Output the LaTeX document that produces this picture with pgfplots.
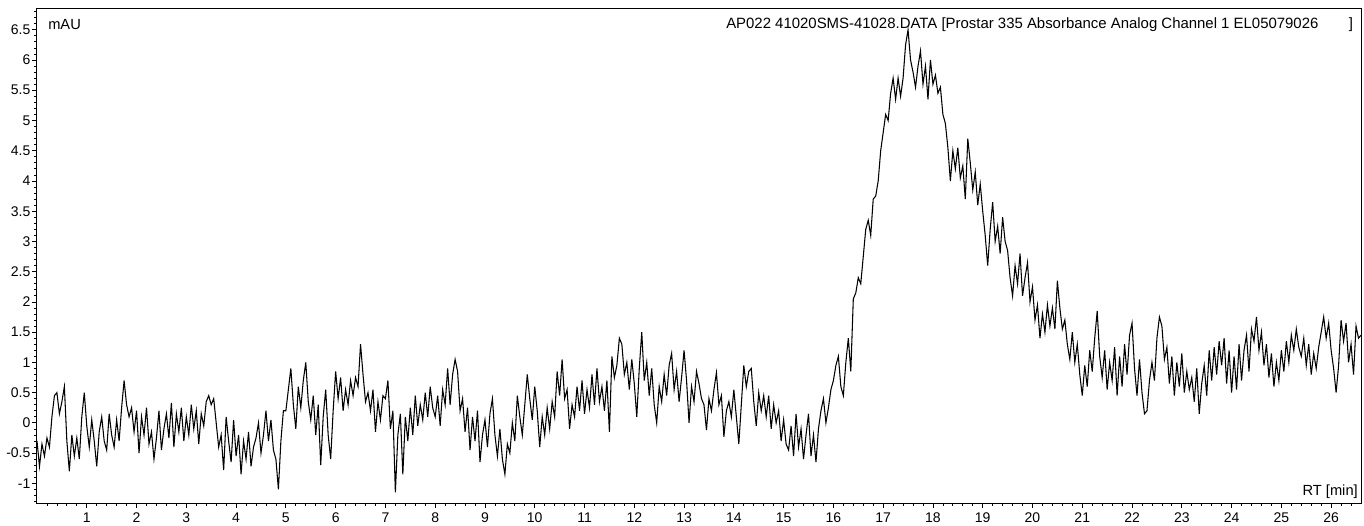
\documentclass[border=0pt]{standalone}
\usepackage{fontspec}
\setmainfont{Liberation Sans}
\usepackage{pgfplots}
\usepackage{pgfplotstable}
\pgfplotsset{compat=1.18}

\pgfplotstableread[row sep=\\]{
y\\
-0.30\\ -0.72\\ -0.35\\ -0.55\\ -0.25\\ -0.40\\ 0.10\\ 0.45\\ 0.50\\ 0.15\\ 0.35\\ 0.60\\ -0.30\\ -0.80\\ -0.20\\ -0.55\\ -0.25\\ -0.60\\ 0.10\\ 0.50\\
-0.05\\ -0.40\\ 0.05\\ -0.30\\ -0.72\\ -0.15\\ 0.10\\ -0.30\\ -0.45\\ 0.15\\ -0.20\\ -0.40\\ 0.05\\ -0.30\\ 0.25\\ 0.70\\ 0.30\\ 0.10\\ 0.25\\ -0.15\\
0.20\\ -0.50\\ 0.10\\ -0.20\\ 0.25\\ -0.35\\ -0.15\\ -0.60\\ -0.25\\ 0.20\\ -0.45\\ -0.10\\ 0.15\\ -0.25\\ 0.33\\ -0.40\\ 0.15\\ -0.15\\ 0.25\\ -0.30\\
0.10\\ -0.20\\ 0.30\\ -0.10\\ 0.20\\ -0.35\\ 0.15\\ -0.05\\ 0.35\\ 0.45\\ 0.30\\ 0.40\\ 0.00\\ -0.40\\ -0.20\\ -0.78\\ 0.10\\ -0.30\\ -0.65\\ 0.05\\
-0.55\\ -0.20\\ -0.85\\ -0.30\\ -0.60\\ -0.15\\ -0.72\\ -0.40\\ -0.25\\ 0.00\\ -0.50\\ -0.20\\ 0.20\\ -0.30\\ 0.05\\ -0.45\\ -0.60\\ -1.10\\ -0.30\\ 0.20\\
0.20\\ 0.55\\ 0.90\\ 0.30\\ -0.10\\ 0.60\\ 0.25\\ 0.70\\ 1.00\\ 0.35\\ 0.05\\ 0.45\\ -0.20\\ 0.30\\ -0.70\\ 0.10\\ 0.55\\ -0.20\\ -0.60\\ 0.20\\
0.85\\ 0.40\\ 0.75\\ 0.20\\ 0.55\\ 0.30\\ 0.70\\ 0.45\\ 0.75\\ 0.60\\ 1.30\\ 0.80\\ 0.35\\ 0.50\\ 0.20\\ 0.55\\ -0.15\\ 0.35\\ 0.05\\ 0.45\\
0.40\\ 0.70\\ -0.10\\ 0.20\\ -1.15\\ -0.20\\ 0.15\\ -0.85\\ 0.10\\ -0.30\\ 0.25\\ -0.20\\ 0.45\\ -0.05\\ 0.30\\ 0.05\\ 0.50\\ 0.10\\ 0.60\\ 0.25\\
0.10\\ 0.45\\ -0.05\\ 0.55\\ 0.30\\ 0.90\\ 0.30\\ 0.80\\ 1.05\\ 0.85\\ 0.20\\ 0.40\\ -0.15\\ 0.25\\ -0.45\\ 0.10\\ -0.30\\ 0.20\\ -0.65\\ -0.20\\
0.05\\ -0.40\\ 0.15\\ 0.40\\ -0.20\\ -0.55\\ -0.10\\ -0.60\\ -0.85\\ -0.35\\ -0.50\\ 0.00\\ -0.30\\ 0.45\\ 0.10\\ -0.20\\ 0.30\\ 0.80\\ 0.40\\ 0.05\\
0.60\\ 0.20\\ -0.40\\ 0.10\\ -0.20\\ 0.25\\ -0.10\\ 0.35\\ 0.10\\ 0.85\\ 0.45\\ 1.05\\ 0.40\\ 0.55\\ -0.10\\ 0.30\\ 0.10\\ 0.60\\ 0.20\\ 0.70\\
0.15\\ 0.55\\ 0.25\\ 0.80\\ 0.30\\ 0.90\\ 0.35\\ 0.60\\ 0.20\\ 0.70\\ -0.15\\ 1.10\\ 0.75\\ 0.95\\ 1.40\\ 1.30\\ 0.80\\ 1.00\\ 0.55\\ 1.05\\
0.65\\ 0.10\\ 0.90\\ 1.50\\ 0.70\\ 1.00\\ 0.45\\ 0.90\\ 0.30\\ 0.00\\ 0.60\\ 0.35\\ 0.80\\ 0.45\\ 0.95\\ 1.15\\ 0.55\\ 0.85\\ 0.35\\ 0.75\\
1.20\\ 0.70\\ 0.00\\ 0.60\\ 0.35\\ 0.85\\ 0.65\\ 0.40\\ 0.30\\ -0.12\\ 0.40\\ 0.20\\ 0.55\\ 0.83\\ 0.30\\ 0.45\\ -0.23\\ 0.20\\ 0.35\\ 0.10\\
0.55\\ 0.10\\ -0.35\\ 0.30\\ 0.95\\ 0.60\\ 0.85\\ 0.90\\ 0.35\\ -0.05\\ 0.50\\ 0.20\\ 0.45\\ 0.10\\ 0.45\\ -0.10\\ 0.30\\ 0.00\\ 0.20\\ -0.30\\
0.05\\ -0.35\\ -0.45\\ -0.05\\ -0.55\\ 0.15\\ -0.40\\ -0.10\\ -0.60\\ -0.20\\ 0.15\\ -0.55\\ -0.20\\ -0.65\\ -0.10\\ 0.20\\ 0.40\\ 0.00\\ 0.25\\ 0.55\\
0.70\\ 0.95\\ 1.10\\ 0.60\\ 0.45\\ 1.00\\ 1.40\\ 0.85\\ 2.05\\ 2.15\\ 2.40\\ 2.30\\ 2.75\\ 3.20\\ 3.35\\ 3.10\\ 3.70\\ 3.75\\ 4.00\\ 4.50\\
4.80\\ 5.10\\ 5.00\\ 5.45\\ 5.70\\ 5.35\\ 5.70\\ 5.40\\ 5.70\\ 6.25\\ 6.50\\ 6.00\\ 5.80\\ 5.55\\ 5.90\\ 6.15\\ 5.60\\ 5.90\\ 5.35\\ 6.00\\
5.60\\ 5.75\\ 5.45\\ 5.55\\ 5.10\\ 4.95\\ 4.55\\ 4.00\\ 4.50\\ 4.20\\ 4.55\\ 4.05\\ 4.25\\ 3.70\\ 4.70\\ 4.30\\ 3.85\\ 4.15\\ 3.60\\ 3.95\\
3.50\\ 3.10\\ 2.60\\ 3.20\\ 3.65\\ 3.00\\ 3.25\\ 2.80\\ 3.40\\ 3.00\\ 2.85\\ 2.40\\ 2.10\\ 2.60\\ 2.30\\ 2.80\\ 2.10\\ 2.40\\ 2.65\\ 2.00\\
2.25\\ 1.70\\ 1.95\\ 1.40\\ 1.80\\ 1.50\\ 1.95\\ 1.60\\ 1.90\\ 1.55\\ 2.35\\ 1.90\\ 1.55\\ 1.70\\ 1.30\\ 1.05\\ 1.50\\ 1.00\\ 1.30\\ 0.80\\
0.45\\ 0.95\\ 0.60\\ 1.20\\ 0.85\\ 1.40\\ 1.85\\ 1.10\\ 0.75\\ 1.20\\ 0.55\\ 1.00\\ 0.70\\ 1.25\\ 0.45\\ 1.10\\ 0.60\\ 1.30\\ 0.80\\ 1.45\\
1.65\\ 0.90\\ 0.45\\ 1.05\\ 0.50\\ 0.15\\ 0.20\\ 0.70\\ 1.00\\ 0.70\\ 1.40\\ 1.75\\ 1.60\\ 1.05\\ 1.25\\ 0.65\\ 1.10\\ 0.45\\ 1.00\\ 0.60\\
1.15\\ 0.50\\ 0.85\\ 0.55\\ 0.75\\ 0.35\\ 0.90\\ 0.15\\ 0.65\\ 0.95\\ 0.45\\ 1.20\\ 0.70\\ 1.25\\ 0.80\\ 1.35\\ 0.95\\ 1.40\\ 0.65\\ 1.20\\
0.50\\ 1.10\\ 0.55\\ 1.30\\ 0.70\\ 1.20\\ 1.45\\ 0.85\\ 1.55\\ 1.35\\ 1.75\\ 1.20\\ 1.50\\ 0.95\\ 1.30\\ 0.75\\ 1.15\\ 0.60\\ 1.00\\ 0.70\\
1.20\\ 0.85\\ 1.35\\ 1.00\\ 1.45\\ 1.20\\ 1.55\\ 1.25\\ 1.10\\ 1.40\\ 0.95\\ 1.30\\ 0.80\\ 1.15\\ 0.90\\ 1.25\\ 1.50\\ 1.75\\ 1.40\\ 1.65\\
1.20\\ 0.90\\ 0.50\\ 0.95\\ 1.70\\ 1.35\\ 1.65\\ 1.00\\ 1.30\\ 0.80\\ 1.60\\ 1.40\\ 1.45\\
}\chrom

\begin{document}
\begin{tikzpicture}
\begin{axis}[
  name=ax, at={(0,0)}, anchor=south west,
  scale only axis, width=993pt, height=371.25pt,
  xmin=0, xmax=26.6, ymin=-1.325, ymax=6.86,
  axis line style={line width=0.75pt},
  xtick={1,2,...,26},
  ytick={-1,-0.5,0,0.5,1,1.5,2,2.5,3,3.5,4,4.5,5,5.5,6,6.5},
  minor xtick={0.2,0.4,...,26.41},
  minor ytick={-1.3,-1.2,...,6.81},
  xtick pos=bottom, ytick pos=left,
  tick align=outside,
  major tick length=3.75pt, minor tick length=2pt,
  every tick/.style={black, line width=0.6pt},
  /pgf/number format/assume math mode=true,
  ticklabel style={font=\fontsize{10.5}{12}\selectfont},
  yticklabel style={inner sep=1pt},
  clip=false,
]
\addplot[black, line width=0.8pt] table[x expr=\coordindex*0.05, y=y] {\chrom};
\node[anchor=west, font=\fontsize{11}{13}\selectfont, inner sep=0pt]
  at ([xshift=8.25pt, yshift=-12.75pt]rel axis cs:0,1) {mAU};
\node[anchor=west, font=\fontsize{11.2}{13}\selectfont, inner sep=0pt]
  at ([xshift=516.75pt, yshift=-12.75pt]rel axis cs:0,1) {AP022 41020SMS-41028.DATA [Prostar 335 Absorbance Analog Channel 1 EL05079026};
\node[anchor=center, font=\fontsize{11.2}{13}\selectfont, inner sep=0pt]
  at ([xshift=-7.5pt, yshift=-12.75pt]rel axis cs:1,1) {]};
\node[anchor=east, font=\fontsize{11}{13}\selectfont, inner sep=0pt]
  at ([xshift=-2.25pt, yshift=8.25pt]rel axis cs:1,0) {RT [min]};
\end{axis}
\pgfresetboundingbox
\path (-27.75pt,-16.5pt) rectangle (995.25pt,377.25pt);
\end{tikzpicture}
\end{document}
